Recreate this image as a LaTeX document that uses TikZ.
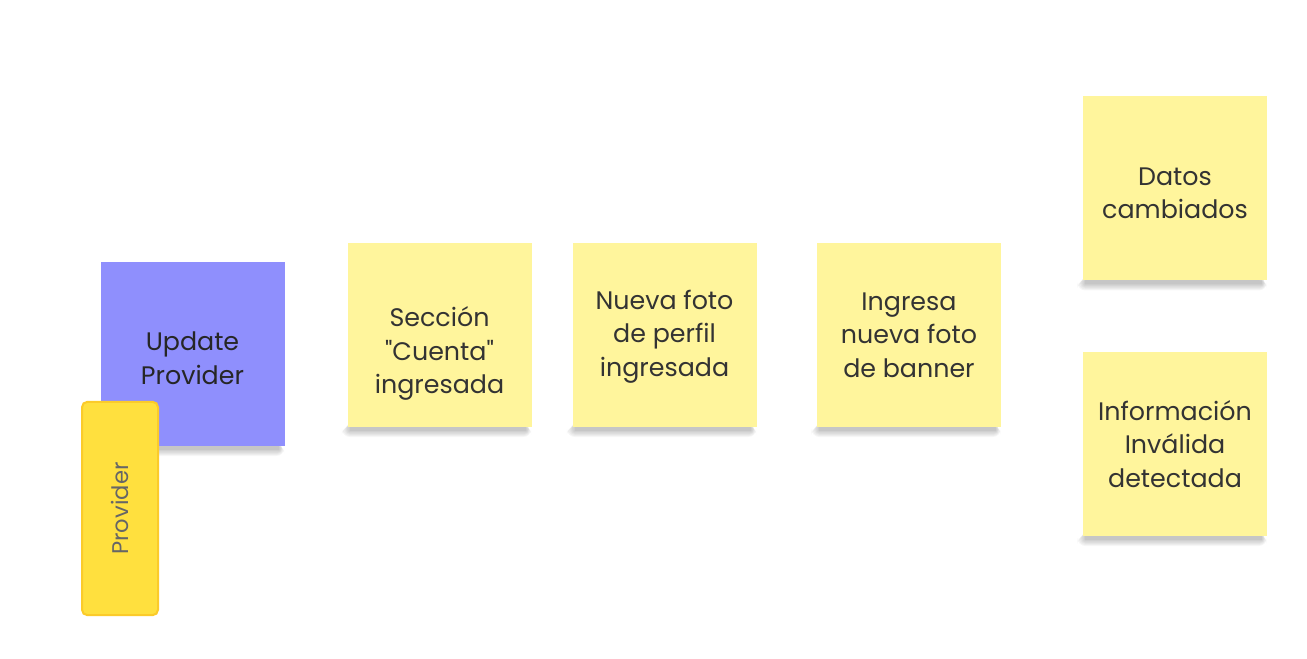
\documentclass[tikz,border=0pt]{standalone}
\usepackage{fontspec}
\setmainfont{Poppins}[Ligatures=TeXOff]
\usetikzlibrary{positioning, backgrounds}

\definecolor{notepurple}{HTML}{8F8FFD}
\definecolor{noteyellow}{HTML}{FFF59C}
\definecolor{provfill}{HTML}{FFE03E}
\definecolor{provdraw}{HTML}{FBCB2A}
\definecolor{notetext}{HTML}{333333}

\begin{document}
\begin{tikzpicture}[x=0.75pt, y=-0.75pt,
        stickynode/.style={rectangle, fill=noteyellow, minimum size=138pt, inner sep=0pt,
                align=center, text=notetext, font=\fontsize{19}{25}\selectfont},
        eventnode/.style={stickynode},
        policynode/.style={stickynode, fill=notepurple, text=black!85},
        tagnode/.style={rectangle, rounded corners=4pt, fill=provfill, draw=provdraw, line width=1.5pt,
                minimum width=57pt, minimum height=160pt, inner sep=0pt,
                text=black!60, font=\fontsize{17}{22}\selectfont},
        shadowpart/.style={fill=black, opacity=0.035},
        ]
        \useasboundingbox (0,0) rectangle (1307,659);
        %Nodes
        \node[policynode, text height=45.5pt] (update) at (192.5,354) {Update\\Provider};
        \node[tagnode]         (provider)    at (120,508.5)  {\rotatebox{90}{Provider}};
        \node[eventnode, text height=93pt] (seccion) at (439.5,335) {Sección\\"Cuenta"\\ingresada};
        \node[eventnode, text height=67pt] (perfil) at (664.5,335) {Nueva foto\\de perfil\\ingresada};
        \node[eventnode]       (banner)      at (909,335)    {Ingresa\\nueva foto\\de banner};
        \node[eventnode, text height=45.5pt] (datos) at (1175,188.5) {Datos\\cambiados};
        \node[eventnode]       (invalida)    at (1175,444)   {Información\\Inválida\\detectada};

        %Shadows
        \begin{scope}[on background layer]
        \foreach \n in {update, seccion, perfil, banner, datos, invalida}
            \foreach \k in {0,...,6}
                \fill[shadowpart, rounded corners=\k pt]
                    ([xshift={2pt-\k*1pt}, yshift={4pt-\k*0.6pt}]\n.south west) rectangle
                    ([xshift={-4pt+\k*0.6pt}, yshift={-2.5pt-\k*0.8pt}]\n.south east);
        \end{scope}
        \end{tikzpicture}
\end{document}
